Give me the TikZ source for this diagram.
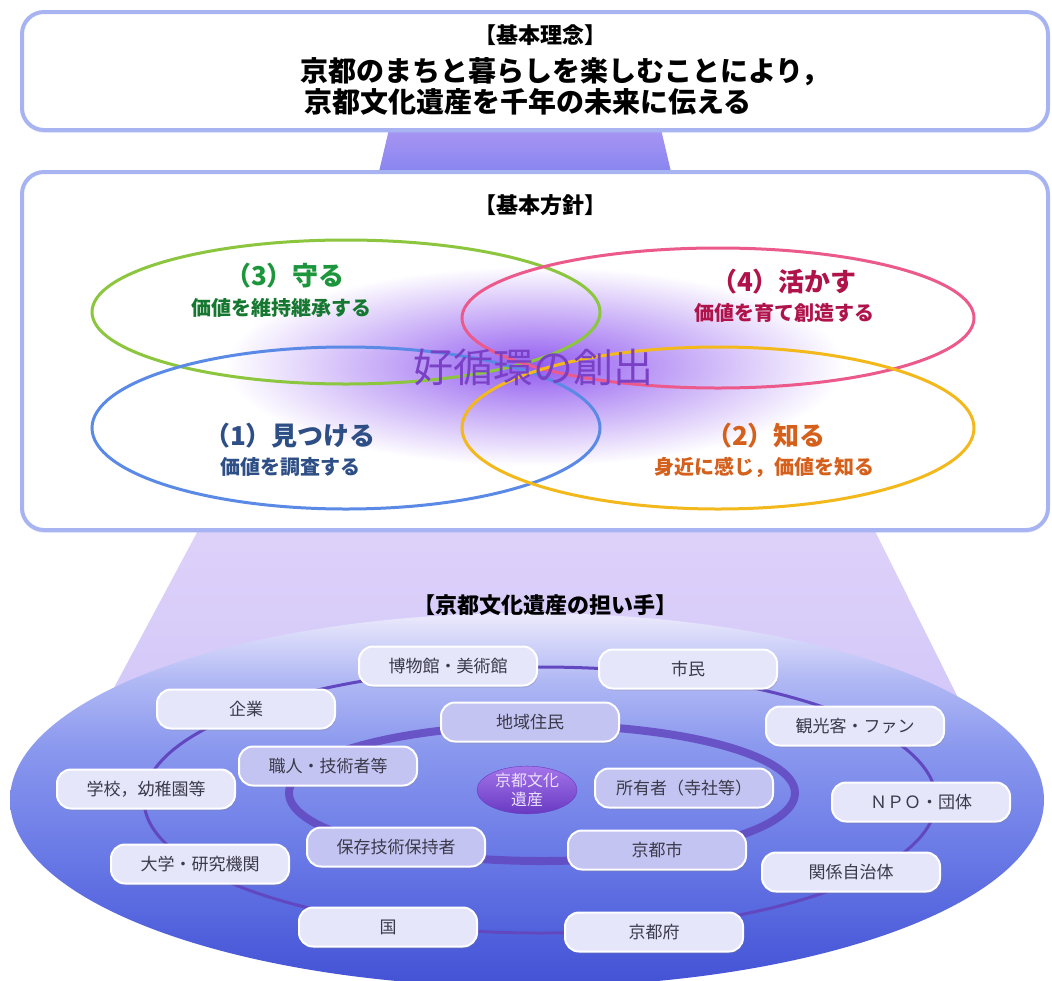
\documentclass[tikz,border=0pt]{standalone}
\usepackage{fontspec}
\setmainfont{Noto Sans CJK JP}
\usetikzlibrary{shapes.geometric,shadows}

\definecolor{panelline}{RGB}{168,180,242}
\definecolor{necktop}{RGB}{172,150,242}
\definecolor{neckbot}{RGB}{132,132,240}
\definecolor{funneltop}{RGB}{222,210,250}
\definecolor{funnelbot}{RGB}{206,194,248}
\definecolor{glowpurple}{RGB}{146,92,240}
\definecolor{protectline}{RGB}{140,198,62}
\definecolor{protecttext}{RGB}{28,150,60}
\definecolor{usline}{RGB}{236,90,140}
\definecolor{usetext}{RGB}{176,18,74}
\definecolor{findline}{RGB}{90,138,230}
\definecolor{findtext}{RGB}{46,78,134}
\definecolor{knowline}{RGB}{242,184,28}
\definecolor{knowtext}{RGB}{212,96,28}
\definecolor{cycletext}{RGB}{122,64,198}
\definecolor{basetop}{RGB}{236,234,252}
\definecolor{basehigh}{RGB}{176,184,244}
\definecolor{basemid}{RGB}{138,152,238}
\definecolor{baselow}{RGB}{106,122,230}
\definecolor{basedeep}{RGB}{76,92,218}
\definecolor{basebot}{RGB}{66,82,212}
\definecolor{ringline}{RGB}{98,72,192}
\definecolor{actorfill}{RGB}{230,230,251}
\definecolor{inneractorfill}{RGB}{196,196,242}
\definecolor{actortext}{RGB}{58,58,74}
\definecolor{heritagetop}{RGB}{164,116,234}
\definecolor{heritagebot}{RGB}{104,58,194}

% bottom to top: 25bp is the foot of the path, 75bp its top
\pgfdeclareverticalshading{basefade}{100bp}{color(0bp)=(basebot); color(25bp)=(basebot);
  color(30bp)=(basedeep); color(43bp)=(baselow); color(57bp)=(basemid);
  color(66bp)=(basehigh); color(75bp)=(basetop); color(100bp)=(basetop)}

\tikzset{
  panel/.style={draw=panelline, line width=4pt, fill=white, rounded corners=22pt,
    drop shadow={shadow xshift=0pt, shadow yshift=-3pt, opacity=0.25, fill=panelline}},
  loopline/.style={line width=3pt},
  bracket/.style={font=\bfseries\fontsize{22}{25}\selectfont, inner sep=0pt},
  head/.style={font=\bfseries\fontsize{26}{30}\selectfont, inner sep=0pt},
  subhead/.style={font=\bfseries\fontsize{20}{24}\selectfont, inner sep=0pt},
  actor/.style={draw=white, line width=2pt, fill=actorfill, rounded corners=14pt,
    minimum width=178pt, minimum height=39pt, inner sep=0pt,
    font=\fontsize{17}{20}\selectfont, text=actortext,
    drop shadow={shadow xshift=1pt, shadow yshift=-2pt, opacity=0.25}},
  inneractor/.style={actor, fill=inneractorfill},
  heritage/.style={ellipse, top color=heritagetop, bottom color=heritagebot,
    draw=heritagebot, minimum width=100pt, minimum height=46pt, inner sep=0pt,
    align=center, text={rgb,255:red,236;green,224;blue,252},
    font=\fontsize{16}{19}\selectfont},
}

\begin{document}
\begin{tikzpicture}[x=1pt, y=-1pt]
\useasboundingbox (0,0) rectangle (1052,980);

% necks between the panels
\shade [top color=necktop, bottom color=neckbot] (390,125) -- (660,125) -- (672,176) -- (378,176) -- cycle;
\shade [top color=funneltop, bottom color=funnelbot] (201,525) -- (872,525) -- (1009,800) -- (54,800) -- cycle;

% panels
\draw [panel] (22,12) rectangle (1048,130);
\draw [panel] (22,172) rectangle (1048,530);

% top panel text
\node [bracket] (ideahead) at (540,35) {【基本理念】};
\node [font=\bfseries\fontsize{28}{31}\selectfont, inner sep=0pt, anchor=west, align=left] (idea) at (300,86)
  {京都のまちと暮らしを楽しむことにより，\\\hspace{4pt}京都文化遺産を千年の未来に伝える};

% policy panel
\node [bracket] (policyhead) at (540,205) {【基本方針】};
\shade [inner color=glowpurple, outer color=white] (535,366) ellipse (310 and 100);
\draw [loopline, protectline] (346,312) ellipse (254 and 72);
\draw [loopline, usline] (718,318) ellipse (256 and 70);
\draw [loopline, findline] (346,428) ellipse (254 and 81);
\draw [loopline, knowline] (718,428) ellipse (256 and 81);

\node [head, text=protecttext] (protect) at (285,276) {（3）守る};
\node [subhead, text=protecttext!80!black] (protectsub) at (281,308) {価値を維持継承する};
\node [head, text=usetext] (use) at (784,282) {（4）活かす};
\node [subhead, text=usetext] (usesub) at (784,313) {価値を育て創造する};
\node [head, text=findtext] (find) at (290,436) {（1）見つける};
\node [subhead, text=findtext] (findsub) at (290,467) {価値を調査する};
\node [head, text=knowtext] (know) at (766,436) {（2）知る};
\node [subhead, text=knowtext] (knowsub) at (764,467) {身近に感じ，価値を知る};
\node [font=\fontsize{40}{44}\selectfont, text=cycletext, inner sep=0pt] (cycle) at (533,367) {好循環の創出};

% bearers
\shade [shading=basefade] (527,800) ellipse (517 and 187);
\node [font=\bfseries\fontsize{22}{26}\selectfont, inner sep=0pt] (bearers) at (545,605) {【京都文化遺産の担い手】};
\draw [ringline, line width=3pt] (540,800) ellipse (396 and 133);
\draw [ringline, line width=8pt, opacity=0.85] (542,793) ellipse (253 and 68);

\node [actor] (museum) at (448,666) {博物館・美術館};
\node [actor] (citizen) at (688,669) {市民};
\node [actor] (company) at (246,709) {企業};
\node [inneractor] (resident) at (530,722) {地域住民};
\node [actor] (tourist) at (855,726) {観光客・ファン};
\node [inneractor] (artisan) at (328,766) {職人・技術者等};
\node [actor] (school) at (146,789) {学校，幼稚園等};
\node [inneractor] (owner) at (684,788) {所有者（寺社等）};
\node [actor] (npo) at (921,802) {ＮＰＯ・団体};
\node [inneractor] (keeper) at (396,847) {保存技術保持者};
\node [inneractor] (city) at (657,850) {京都市};
\node [actor] (university) at (200,864) {大学・研究機関};
\node [actor] (localgov) at (851,872) {関係自治体};
\node [actor] (nation) at (388,927) {国};
\node [actor] (prefecture) at (654,932) {京都府};
\node [heritage] (asset) at (527,790) {京都文化\\遺産};
\end{tikzpicture}
\end{document}
